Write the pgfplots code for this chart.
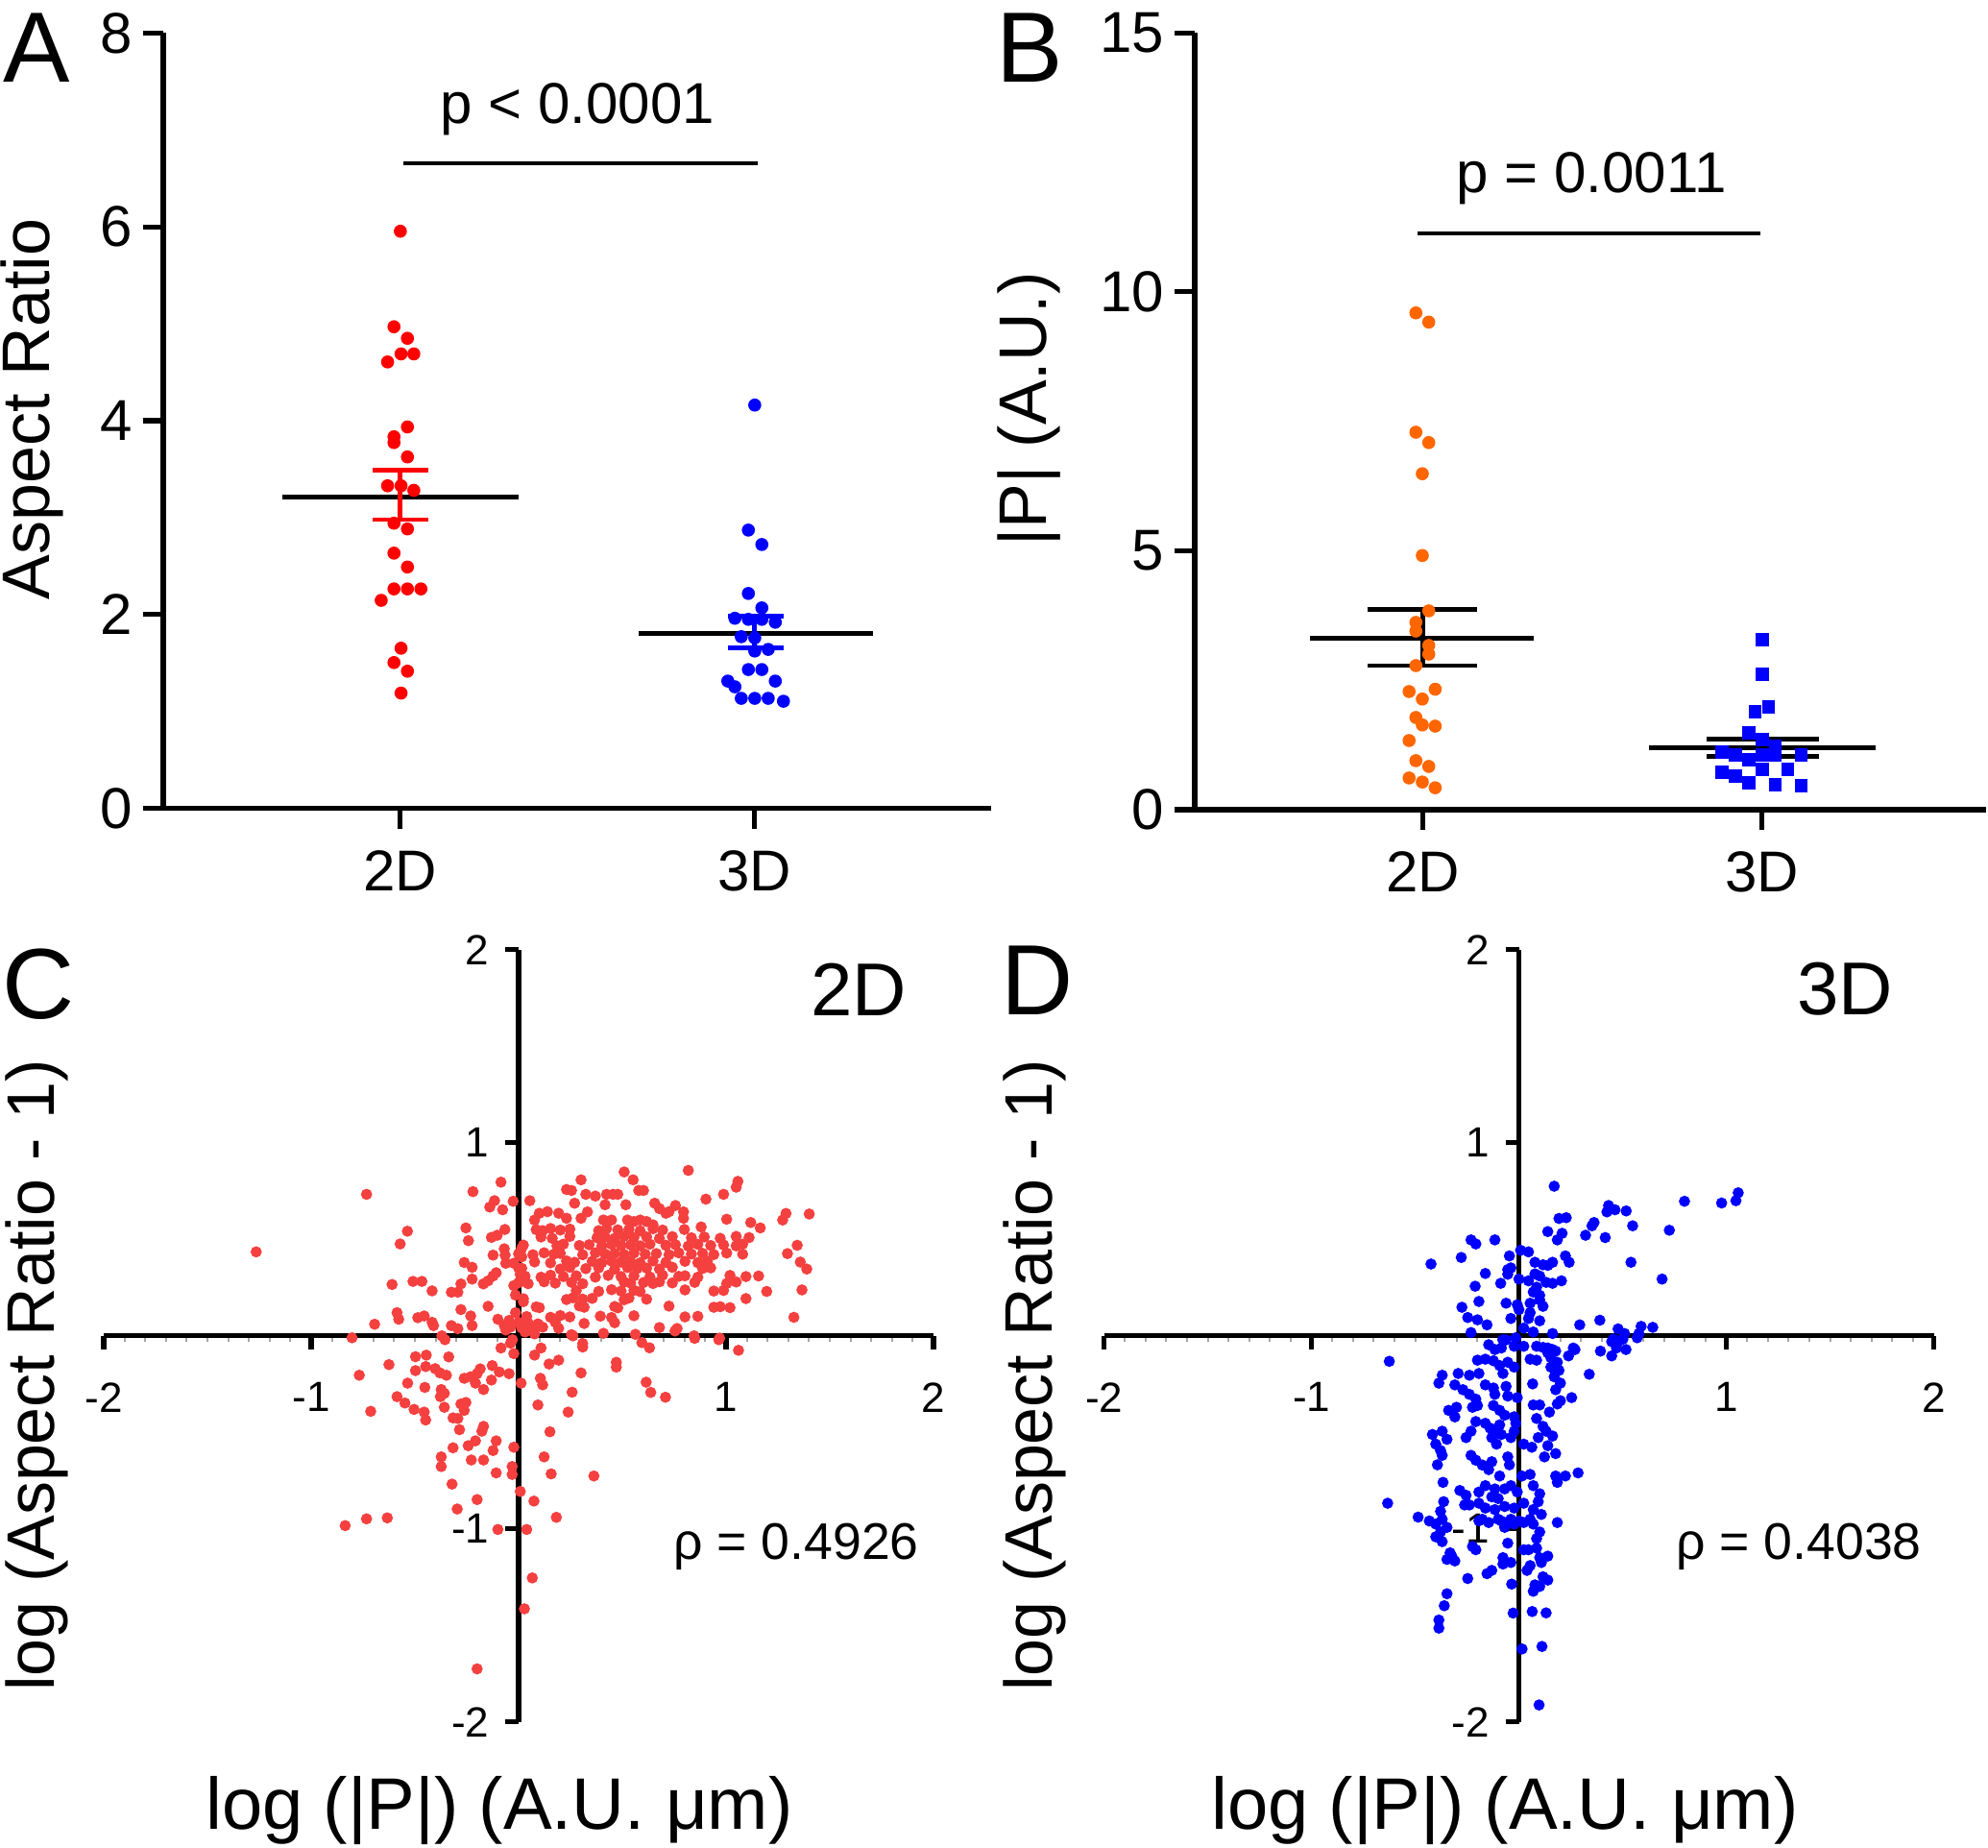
\documentclass[border=0pt]{standalone}
\usepackage{fontspec}
\setmainfont{Liberation Sans}
\usepackage{pgfplots}
\pgfplotsset{compat=1.18}
\definecolor{redA}{RGB}{255,0,0}
\definecolor{orB}{RGB}{255,102,0}
\definecolor{blu}{RGB}{0,0,255}
\definecolor{redC}{RGB}{245,64,64}
\newcommand{\fs}[1]{\fontsize{#1}{#1}\selectfont}
\pgfplotsset{
  dotplot/.style={
    scale only axis, anchor=south west,
    axis lines=left, axis line style={-, line width=1.3pt},
    xtick={1,2}, xticklabels={2D,3D},
    tick align=outside, major tick length=5.3pt, tick style={black, line width=1.3pt},
    /pgf/number format/assume math mode=true,
    ticklabel style={font=\fs{15}},
    xticklabel style={anchor=north, inner sep=0pt, yshift=-5.5pt},
    yticklabel style={anchor=east, inner sep=0pt, xshift=-2.5pt},
    clip=false,
  },
  scatplot/.style={
    scale only axis, anchor=south west, width=216pt, height=201pt,
    xmin=-2, xmax=2, ymin=-2, ymax=2,
    axis lines=middle, axis line style={-, line width=1.3pt},
    xtick={-2,-1,1,2}, xticklabels={-2,-1,1,2},
    ytick={-2,-1,1,2}, yticklabels={-2,-1,1,2},
    minor xtick={-1.9,-1.8,-1.7,-1.6,-1.5,-1.4,-1.3,-1.2,-1.1,-0.9,-0.8,-0.7,-0.6,-0.5,-0.4,-0.3,-0.2,-0.1,0.1,0.2,0.3,0.4,0.5,0.6,0.7,0.8,0.9,1.1,1.2,1.3,1.4,1.5,1.6,1.7,1.8,1.9},
    tick align=outside, major tick length=3.5pt, minor tick length=1.6pt,
    major tick style={black, line width=1.3pt},
    minor tick style={gray!70, line width=0.5pt},
    ticklabel style={font=\fs{11}},
    xticklabel style={anchor=north, inner sep=0pt, yshift=-8.5pt},
    yticklabel style={anchor=east, inner sep=0pt, xshift=-4pt},
    clip=false,
  },
}
\begin{document}
\begin{tikzpicture}
\useasboundingbox (0,0) rectangle (517.5pt,481pt);

% ---------------- Panel A ----------------
\begin{axis}[dotplot, at={(42.5pt,270.6pt)}, width=215.5pt, height=201.8pt,
  xmin=0.331, xmax=2.667, ymin=0, ymax=8, ytick={0,2,4,6,8}]
\addplot[only marks, mark=*, mark size=1.5pt, color=redA] coordinates {
(1.000,5.955) (0.982,4.969) (1.020,4.850) (0.964,4.606) (1.002,4.689) (1.038,4.689)
(1.020,3.935) (0.982,3.834) (0.982,3.774) (1.020,3.626) (0.964,3.328) (1.002,3.328)
(1.038,3.281) (0.982,2.942) (1.020,2.883) (0.982,2.633) (1.020,2.490) (0.982,2.264)
(1.020,2.264) (1.058,2.264) (0.946,2.146) (1.002,1.652) (0.982,1.504) (1.020,1.415)
(1.002,1.189)};
\addplot[only marks, mark=*, mark size=1.5pt, color=blu] coordinates {
(2.000,4.161) (1.982,2.871) (2.020,2.722) (1.982,2.217) (2.020,2.068) (1.944,1.961)
(1.982,1.950) (2.020,1.950) (2.058,1.920) (1.962,1.771) (2.000,1.759) (2.000,1.623)
(2.038,1.640) (1.982,1.432) (2.020,1.432) (1.924,1.313) (2.058,1.313) (1.944,1.254)
(1.962,1.135) (2.000,1.135) (2.038,1.135) (2.081,1.105)};
\addplot[black, line width=1.2pt] coordinates {(0.667,3.215) (1.334,3.215)};
\addplot[redA, line width=1.2pt] coordinates {(1,2.978) (1,3.489)};
\addplot[redA, line width=1.2pt] coordinates {(0.922,3.489) (1.078,3.489)};
\addplot[redA, line width=1.2pt] coordinates {(0.922,2.978) (1.078,2.978)};
\addplot[black, line width=1.2pt] coordinates {(1.672,1.801) (2.335,1.801)};
\addplot[blu, line width=1.2pt] coordinates {(2,1.652) (2,1.979)};
\addplot[blu, line width=1.2pt] coordinates {(1.924,1.979) (2.082,1.979)};
\addplot[blu, line width=1.2pt] coordinates {(1.924,1.652) (2.082,1.652)};
\addplot[black, line width=1.1pt] coordinates {(1.008,6.655) (2.008,6.655)};
\node[font=\fs{15}] at (axis cs:1.5,7.21) {p < 0.0001};
\end{axis}

% ---------------- Panel B ----------------
\begin{axis}[dotplot, at={(311pt,270.25pt)}, width=206pt, height=202.2pt,
  xmin=0.327, xmax=2.66, ymin=0, ymax=15, ytick={0,5,10,15}]
\addplot[only marks, mark=*, mark size=1.5pt, color=orB] coordinates {
(0.979,9.592) (1.017,9.414) (0.979,7.288) (1.017,7.088) (0.998,6.487) (0.998,4.907)
(1.017,3.839) (0.979,3.616) (0.979,3.449) (1.017,3.171) (1.017,3.004) (0.979,2.782)
(0.959,2.281) (1.036,2.326) (0.998,2.136) (0.979,1.780) (0.998,1.636) (1.036,1.613)
(0.959,1.335) (0.979,0.946) (1.017,0.835) (0.959,0.612) (0.998,0.534) (1.036,0.423)};
\addplot[only marks, mark=square*, mark size=1.5pt, color=blu] coordinates {
(2.000,3.283) (2.000,2.615) (1.979,1.892) (2.019,1.981) (1.960,1.480) (2.000,1.358)
(1.881,1.113) (1.921,1.057) (1.960,0.968) (2.000,1.057) (2.038,1.224) (2.038,1.057)
(2.115,1.057) (2.000,0.779) (2.075,0.779) (1.881,0.723) (1.921,0.645) (1.960,0.523)
(2.038,0.478) (2.115,0.467)};
\addplot[black, line width=1.2pt] coordinates {(0.667,3.316) (1.327,3.316)};
\addplot[black, line width=1.2pt] coordinates {(1,2.782) (1,3.872)};
\addplot[black, line width=1.2pt] coordinates {(0.836,3.872) (1.16,3.872)};
\addplot[black, line width=1.2pt] coordinates {(0.836,2.782) (1.16,2.782)};
\addplot[black, line width=1.2pt] coordinates {(1.667,1.191) (2.333,1.191)};
\addplot[black, line width=1.2pt] coordinates {(2,1.024) (2,1.369)};
\addplot[black, line width=1.2pt] coordinates {(1.837,1.369) (2.166,1.369)};
\addplot[black, line width=1.2pt] coordinates {(1.837,1.024) (2.166,1.024)};
\addplot[black, line width=1.1pt] coordinates {(0.983,11.13) (1.994,11.13)};
\node[font=\fs{15}] at (axis cs:1.497,12.19) {p = 0.0011};
\end{axis}

% ---------------- Panel C ----------------
\begin{axis}[scatplot, at={(27pt,32.8pt)}]
\addplot[only marks, mark=*, mark size=1.25pt, color=redC] coordinates {
(-1.265,0.435) (-0.733,0.733) (-0.571,0.476) (-0.536,0.542) (-0.610,0.266) (-0.509,0.282)
(-0.466,0.282) (-0.417,0.233) (-0.694,0.060) (-0.586,0.120) (-0.578,0.086) (-0.486,0.094)
(-0.455,0.103) (-0.417,0.070) (-0.410,0.053) (-0.803,-0.010) (-0.370,0.000) (-0.355,-0.020)
(-0.324,0.226) (-0.293,0.226) (-0.278,0.269) (-0.278,0.136) (-0.324,0.053) (-0.293,0.037)
(-0.262,0.380) (-0.224,0.355) (-0.224,0.294) (-0.254,0.559) (-0.242,0.493) (-0.220,0.747)
(-0.170,0.269) (-0.147,0.285) (-0.123,0.310) (-0.108,0.327) (-0.147,0.153) (-0.231,0.103)
(-0.224,0.053) (-0.139,0.667) (-0.116,0.700) (-0.077,0.653) (-0.085,0.796) (-0.026,0.697)
(-0.131,0.510) (-0.103,0.521) (-0.066,0.551) (-0.123,0.418) (-0.069,0.451) (-0.065,0.418)
(-0.062,0.376) (0.015,0.454) (0.015,0.409) (-0.023,0.376) (0.000,0.351) (0.008,0.318)
(0.023,0.285) (-0.023,0.260) (-0.015,0.211) (0.023,0.177) (-0.100,0.086) (-0.069,0.053)
(-0.039,0.045) (0.054,0.700) (0.077,0.600)
(0.301,0.808) (0.509,0.849) (0.552,0.808) (0.818,0.857) (1.057,0.800) (1.049,0.770)
(0.231,0.758) (0.255,0.753) (0.324,0.733) (0.370,0.724) (0.424,0.733) (0.455,0.733)
(0.478,0.733) (0.579,0.753) (0.602,0.753) (0.903,0.708) (0.988,0.733) (0.270,0.687)
(0.417,0.679) (0.517,0.679) (0.656,0.687) (0.679,0.659) (0.756,0.675) (0.795,0.642)
(0.795,0.609) (0.100,0.635) (0.139,0.643) (0.193,0.635) (0.231,0.609) (0.301,0.609)
(0.332,0.642) (0.409,0.600) (0.448,0.600) (0.525,0.600) (0.556,0.592) (0.586,0.600)
(0.617,0.592) (0.648,0.575) (0.710,0.635) (0.725,0.643) (1.003,0.604) (1.119,0.587)
(1.165,0.559) (0.880,0.564) (1.289,0.634) (1.273,0.600) (1.401,0.631)
(0.085,0.550) (0.116,0.545) (0.154,0.556) (0.201,0.548) (0.247,0.553) (0.386,0.545)
(0.424,0.556) (0.478,0.549) (0.532,0.552) (0.586,0.544) (0.648,0.555) (0.694,0.548) (0.799,0.551)
(0.108,0.512) (0.162,0.505) (0.247,0.515) (0.378,0.508) (0.417,0.512) (0.463,0.505)
(0.509,0.516) (0.556,0.509) (0.617,0.512) (0.679,0.504) (0.741,0.514) (0.833,0.508)
(0.895,0.512) (0.972,0.505) (1.049,0.515) (1.111,0.509)
(0.023,0.470) (0.185,0.466) (0.216,0.475) (0.293,0.468) (0.340,0.472) (0.401,0.465)
(0.448,0.474) (0.494,0.468) (0.540,0.471) (0.586,0.466) (0.633,0.475) (0.710,0.469)
(0.756,0.472) (0.818,0.465) (0.864,0.474) (0.926,0.468) (0.988,0.471) (1.049,0.466)
(1.080,0.475) (1.343,0.469)
(0.000,0.425) (0.069,0.420) (0.123,0.430) (0.170,0.423) (0.201,0.427) (0.309,0.420)
(0.370,0.430) (0.417,0.424) (0.463,0.427) (0.509,0.421) (0.556,0.429) (0.610,0.423)
(0.664,0.426) (0.725,0.420) (0.772,0.430) (0.833,0.424) (0.887,0.427) (0.941,0.421)
(1.003,0.429) (1.080,0.423) (1.296,0.426)
(0.077,0.383) (0.154,0.378) (0.231,0.388) (0.270,0.381) (0.355,0.386) (0.401,0.379)
(0.448,0.387) (0.494,0.382) (0.540,0.385) (0.586,0.378) (0.648,0.388) (0.710,0.381)
(0.802,0.386) (0.864,0.379) (0.910,0.387) (1.358,0.382)
(0.015,0.350) (0.201,0.346) (0.247,0.355) (0.324,0.348) (0.386,0.352) (0.463,0.345)
(0.525,0.354) (0.571,0.348) (0.617,0.351) (0.679,0.346) (0.741,0.355) (0.887,0.349)
(0.926,0.352) (1.389,0.346)
(0.031,0.309) (0.108,0.304) (0.154,0.314) (0.216,0.307) (0.278,0.311) (0.370,0.304)
(0.432,0.313) (0.494,0.307) (0.556,0.310) (0.633,0.305) (0.694,0.314) (0.772,0.308)
(0.802,0.311) (0.864,0.304) (1.019,0.313) (1.096,0.307) (1.157,0.310)
(0.000,0.275) (0.046,0.270) (0.123,0.280) (0.177,0.273) (0.255,0.277) (0.309,0.270)
(0.509,0.279) (0.540,0.273) (0.602,0.276) (0.648,0.271) (0.679,0.280) (0.741,0.274)
(0.849,0.277) (1.003,0.271) (1.049,0.279)
(0.278,0.234) (0.386,0.230) (0.448,0.239) (0.494,0.232) (0.556,0.236) (0.586,0.229)
(0.802,0.238) (0.941,0.232) (0.988,0.235) (1.196,0.230) (1.366,0.238)
(0.023,0.192) (0.231,0.188) (0.262,0.197) (0.309,0.190) (0.355,0.194) (0.509,0.187)
(0.532,0.196) (0.617,0.190) (1.096,0.193)
(0.085,0.150) (0.100,0.146) (0.293,0.155) (0.316,0.148) (0.463,0.152) (0.478,0.145)
(0.725,0.154) (0.941,0.148) (0.972,0.151) (1.019,0.146)
(0.039,0.100) (0.154,0.096) (0.201,0.105) (0.247,0.098) (0.394,0.102) (0.448,0.095)
(0.556,0.104) (0.802,0.098) (0.864,0.101) (1.327,0.096)
(0.046,0.066) (0.093,0.062) (0.177,0.070) (0.316,0.064) (0.463,0.068)
(0.015,0.041) (0.069,0.037) (0.116,0.045) (0.193,0.039) (0.679,0.043) (0.764,0.038)
(0.077,0.010) (0.255,0.006) (0.409,0.013) (0.563,0.008)
(0.849,-0.013) (0.965,-0.020) (0.309,-0.040) (0.594,-0.035)
(-0.625,-0.149) (-0.768,-0.204) (-0.713,-0.391) (-0.497,-0.108) (-0.445,-0.100) (-0.337,-0.109)
(-0.497,-0.180) (-0.448,-0.159) (-0.402,-0.170) (-0.379,-0.192) (-0.348,-0.204) (-0.535,-0.245)
(-0.452,-0.267) (-0.373,-0.278) (-0.358,-0.298) (-0.377,-0.315) (-0.586,-0.315) (-0.548,-0.348)
(-0.504,-0.381) (-0.455,-0.395) (-0.448,-0.436) (-0.358,-0.370) (-0.316,-0.425) (-0.293,-0.428)
(-0.278,-0.353) (-0.254,-0.345) (-0.262,-0.386) (-0.285,-0.486) (-0.262,-0.220) (-0.231,-0.212)
(-0.200,-0.196) (-0.185,-0.171) (-0.208,-0.245) (-0.169,-0.278) (-0.127,-0.154) (-0.093,-0.187)
(-0.046,-0.196) (-0.131,-0.229) (-0.085,-0.063) (-0.039,-0.038) (-0.023,-0.092) (-0.169,-0.469)
(-0.177,-0.494) (-0.316,-0.580) (-0.243,-0.569) (-0.208,-0.544) (-0.108,-0.544) (-0.123,-0.594)
(-0.373,-0.627) (-0.373,-0.677) (-0.228,-0.643) (-0.169,-0.643) (-0.023,-0.577) (-0.108,-0.710)
(-0.031,-0.677) (-0.031,-0.718) (-0.321,-0.768) (-0.200,-0.848) (0.008,-0.806) (-0.296,-0.897)
(0.074,-0.856) (0.182,-0.940) (-0.836,-0.983) (-0.733,-0.948) (-0.633,-0.943) (-0.100,-1.003)
(0.039,-1.003) (0.066,-1.254) (0.028,-1.414) (-0.200,-1.725) (0.077,-0.100) (0.108,-0.063)
(0.147,-0.146) (0.193,-0.126) (0.309,-0.058) (0.262,0.000) (0.301,-0.192) (0.105,-0.220)
(0.116,-0.254) (0.093,-0.358) (0.258,-0.292) (0.239,-0.395) (0.151,-0.497) (0.123,-0.627)
(0.157,-0.715) (0.363,-0.726) (0.012,-0.245)
(0.615,-0.240) (0.637,-0.293) (0.708,-0.318) (0.471,-0.137) (0.471,-0.162) (0.631,-0.062)
(0.754,0.025) (0.846,0.000) (0.969,-0.012) (1.060,-0.075)
(-0.046,0.080) (-0.015,0.120) (0.031,0.020) (-0.062,0.030) (0.000,0.070) (-0.030,-0.020)};
\end{axis}

% ---------------- Panel D ----------------
\begin{axis}[scatplot, at={(287.4pt,32.8pt)}]
\addplot[only marks, mark=*, mark size=1.25pt, color=blu] coordinates {
(0.170,0.775) (0.798,0.697) (0.977,0.688) (1.046,0.700) (1.057,0.741) (0.432,0.675)
(0.463,0.653) (0.424,0.642) (0.517,0.647) (0.193,0.608) (0.228,0.612) (0.362,0.587)
(0.352,0.570) (0.548,0.570) (0.725,0.547) (0.139,0.540) (0.208,0.531) (0.185,0.497)
(0.321,0.521) (0.416,0.509) (-0.231,0.497) (-0.208,0.476) (-0.116,0.497) (0.008,0.443)
(0.046,0.435) (-0.046,0.414) (-0.278,0.406) (-0.424,0.372) (0.224,0.414) (0.242,0.381)
(0.077,0.381) (0.116,0.368) (0.162,0.381) (0.139,0.365) (0.540,0.381) (0.690,0.294)
(-0.054,0.343) (-0.039,0.352) (-0.054,0.319) (-0.162,0.323) (0.000,0.294) (0.046,0.285)
(0.077,0.321) (0.100,0.310) (0.131,0.277) (0.162,0.272) (0.205,0.285) (-0.088,0.272)
(-0.211,0.257) (0.069,0.227) (0.085,0.252) (0.100,0.210) (-0.193,0.178) (-0.062,0.169)
(-0.008,0.161) (0.000,0.136) (0.054,0.169) (0.100,0.186) (0.116,0.153) (0.054,0.120)
(-0.275,0.148) (-0.247,0.095) (-0.200,0.083) (-0.154,0.057) (-0.039,0.090) (0.046,0.090)
(0.100,0.078) (-0.231,0.017) (0.023,0.040) (0.069,0.020) (0.162,0.012) (0.293,0.057)
(0.390,0.081) (0.478,0.036) (0.509,0.012) (0.589,0.049) (0.645,0.044) (0.570,-0.010)
(0.578,0.012) (0.455,-0.017) (0.501,-0.017) (0.470,-0.047) (-0.146,-0.046) (-0.116,-0.071)
(-0.062,-0.021) (-0.023,-0.054) (0.023,-0.054) (0.085,-0.054) (0.139,-0.063) (0.162,-0.071)
(0.262,-0.063) (0.393,-0.079)
(-0.625,-0.132) (-0.633,-0.867) (-0.077,-0.020) (-0.015,-0.010) (-0.085,-0.063) (0.116,-0.060)
(0.177,-0.079) (0.139,-0.088) (-0.200,-0.126) (-0.162,-0.121) (-0.123,-0.129) (-0.093,-0.154)
(-0.054,-0.137) (-0.023,-0.162) (-0.077,-0.195) (0.054,-0.121) (0.085,-0.126) (0.154,-0.113)
(0.185,-0.137) (0.193,-0.179) (0.170,-0.212) (0.200,-0.245) (0.177,-0.279) (0.154,-0.162)
(0.239,-0.104) (0.270,-0.071) (0.447,-0.104) (0.470,-0.063) (0.516,-0.071) (0.447,-0.030)
(0.339,-0.199) (0.066,-0.249) (0.254,-0.320) (-0.370,-0.204) (-0.386,-0.245) (-0.293,-0.195)
(-0.239,-0.204) (-0.193,-0.195) (-0.309,-0.254) (-0.270,-0.279) (-0.239,-0.303) (-0.208,-0.328)
(-0.162,-0.254) (-0.123,-0.270) (-0.116,-0.303) (-0.062,-0.262) (-0.054,-0.312) (-0.008,-0.320)
(-0.339,-0.386) (-0.301,-0.370) (-0.309,-0.420) (-0.224,-0.370) (-0.200,-0.361) (-0.123,-0.361)
(-0.093,-0.386) (-0.069,-0.411) (-0.023,-0.419) (-0.015,-0.453) (0.069,-0.358) (0.100,-0.358)
(0.085,-0.428) (0.116,-0.469) (0.147,-0.395) (0.185,-0.353) (0.200,-0.336) (-0.417,-0.511)
(-0.370,-0.494) (-0.347,-0.536) (-0.401,-0.561) (-0.378,-0.594) (-0.370,-0.619) (-0.393,-0.668)
(-0.255,-0.527) (-0.231,-0.494) (-0.208,-0.444) (-0.162,-0.453) (-0.139,-0.478) (-0.116,-0.494)
(-0.093,-0.461) (-0.085,-0.511) (-0.131,-0.527) (-0.108,-0.561) (-0.039,-0.527) (-0.023,-0.494)
(0.023,-0.561) (0.062,-0.577) (0.093,-0.527) (0.131,-0.494) (0.162,-0.519) (0.139,-0.569)
(0.177,-0.610) (0.123,-0.627) (-0.231,-0.619) (-0.208,-0.644) (-0.177,-0.669) (-0.146,-0.693)
(-0.131,-0.652) (-0.093,-0.726) (-0.046,-0.668) (-0.054,-0.627) (0.015,-0.726) (0.054,-0.718)
(0.069,-0.776) (0.100,-0.818) (0.093,-0.859) (0.177,-0.726) (0.224,-0.726) (0.185,-0.759)
(0.285,-0.710) (-0.366,-0.759) (-0.285,-0.801) (-0.255,-0.826) (-0.363,-0.859) (-0.239,-0.876)
(-0.262,-0.876) (-0.193,-0.809) (-0.162,-0.776) (-0.131,-0.834) (-0.116,-0.793) (-0.100,-0.843)
(-0.069,-0.793) (-0.039,-0.776) (-0.008,-0.809) (-0.193,-0.867) (-0.162,-0.892) (-0.116,-0.900)
(-0.069,-0.884) (-0.023,-0.892) (0.023,-0.867) (0.069,-0.900) (-0.486,-0.939) (-0.432,-0.959)
(-0.378,-0.909) (-0.370,-0.950) (-0.177,-0.950) (-0.146,-0.967) (-0.085,-0.959) (-0.039,-0.950)
(0.000,-0.959) (0.054,-0.950) (0.108,-0.925) (0.185,-0.967)
(-0.401,-0.975) (-0.378,-1.016) (-0.347,-0.992) (-0.401,-1.041) (-0.370,-1.066) (-0.332,-1.124)
(-0.347,-1.158) (-0.309,-1.166) (-0.324,-1.141) (-0.224,-1.091) (-0.208,-1.108) (-0.247,-1.257)
(-0.154,-1.232) (-0.131,-1.215) (-0.347,-1.336) (-0.360,-1.398) (-0.386,-1.472) (-0.386,-1.514)
(-0.193,-0.958) (-0.100,-0.950) (-0.069,-0.992) (-0.023,-0.975) (0.023,-0.967) (0.069,-0.975)
(0.100,-1.016) (0.085,-1.050) (-0.054,-1.074) (-0.077,-1.149) (-0.077,-1.182) (-0.039,-1.174)
(0.023,-1.108) (0.046,-1.108) (0.085,-1.100) (0.100,-1.149) (0.139,-1.141) (0.108,-1.174)
(0.039,-1.215) (0.054,-1.190) (0.116,-1.248) (0.139,-1.265) (0.077,-1.290) (0.069,-1.323)
(0.100,-1.298) (-0.035,-1.286) (-0.028,-1.436) (0.064,-1.428) (0.131,-1.435) (0.015,-1.622)
(0.111,-1.609) (0.097,-1.912)};
\end{axis}

% ---------------- texts ----------------
\node[font=\fs{26}] at (9.5pt,468.5pt) {A};
\node[font=\fs{26}] at (268pt,468.5pt) {B};
\node[font=\fs{26}] at (10pt,224.75pt) {C};
\node[font=\fs{26}] at (270pt,225.75pt) {D};
\node[font=\fs{17.5}, rotate=90] at (8.25pt,374.5pt) {Aspect Ratio};
\node[font=\fs{17.5}, rotate=90] at (268pt,374.5pt) {|P| (A.U.)};
\node[font=\fs{17.5}, rotate=90] at (9.5pt,123pt) {log (Aspect Ratio - 1)};
\node[font=\fs{17.5}, rotate=90] at (269.25pt,123pt) {log (Aspect Ratio - 1)};
\node[font=\fs{19}] at (130pt,9.75pt) {log (|P|) (A.U. μm)};
\node[font=\fs{19}] at (391.75pt,9.75pt) {log (|P|) (A.U. μm)};
\node[font=\fs{19.5}] at (223.5pt,223.5pt) {2D};
\node[font=\fs{19.5}] at (480.25pt,223.5pt) {3D};
\node[font=\fs{13.4}] at (207.25pt,78.5pt) {ρ = 0.4926};
\node[font=\fs{13.4}] at (468.25pt,78.5pt) {ρ = 0.4038};
\end{tikzpicture}
\end{document}
